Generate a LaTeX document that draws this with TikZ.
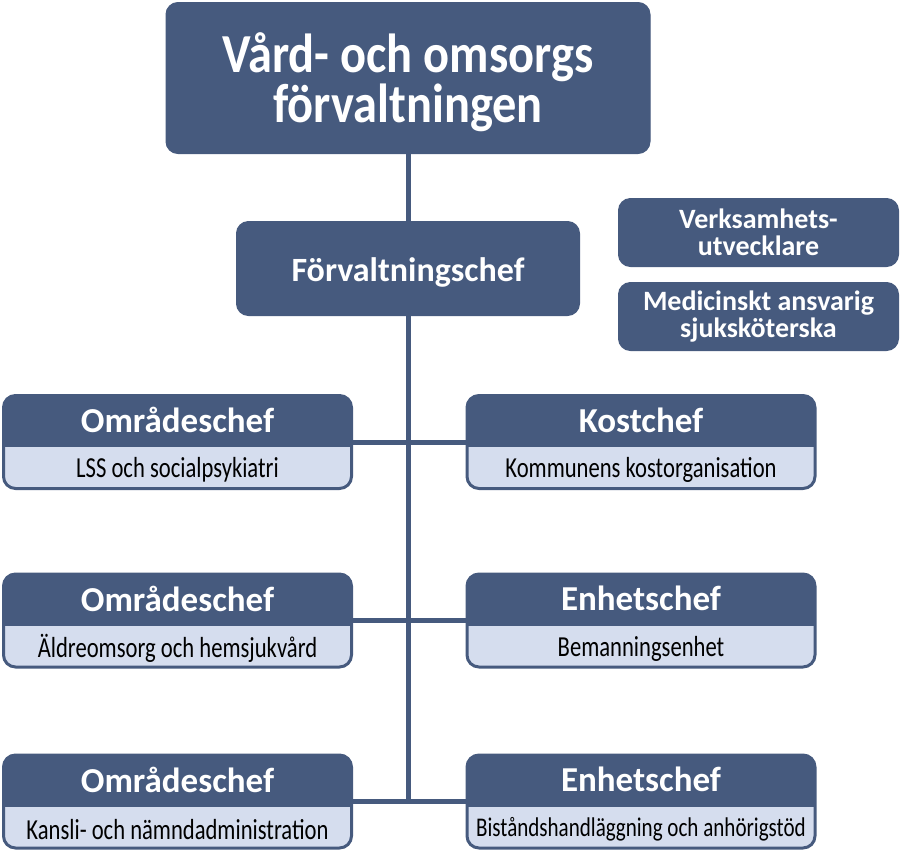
\documentclass[tikz,border=0pt]{standalone}
\usepackage{fontspec}
\setmainfont{Carlito}
\newfontfamily\orgtitle[FakeStretch=0.88]{Carlito}
\newfontfamily\orgsub[FakeStretch=0.78]{Carlito}
\usetikzlibrary{backgrounds}

\definecolor{orgdark}{HTML}{465A7E}
\definecolor{orglight}{HTML}{D5DDEE}

\tikzset{
  darkbox/.style={
    draw=orgdark, fill=orgdark, rounded corners=12pt, line width=1pt,
    inner sep=0pt, text=white, align=center
  },
  unitbox/.style={
    draw=orgdark, fill=orglight, rounded corners=12pt, line width=3pt,
    minimum width=348pt, minimum height=93pt, inner sep=0pt,
    path picture={\fill[orgdark, sharp corners]
      (path picture bounding box.north west)
      rectangle ([yshift=-51.5pt]path picture bounding box.north east);}
  },
  headtext/.style={font=\bfseries\fontsize{35}{36}\selectfont,
    text=white, inner sep=0pt},
  subtext/.style={font=\orgsub\fontsize{29}{30}\selectfont,
    text=black, inner sep=0pt},
  orglink/.style={draw=orgdark, line width=5pt}
}

\begin{document}
\begin{tikzpicture}[x=1pt, y=-1pt]
\useasboundingbox (0,0) rectangle (900,852);

% Top of the organisation and its head.
\node[darkbox, minimum width=484pt, minimum height=151pt, text depth=0pt,
  font=\orgtitle\bfseries\fontsize{55}{50}\selectfont] (forv) at (408,78)
  {Vård- och omsorgs\\förvaltningen};
\node[darkbox, minimum width=343pt, minimum height=94pt, text height=32pt,
  font=\bfseries\fontsize{34}{36}\selectfont] (chef) at (408,268.5)
  {Förvaltningschef};

% Staff functions beside the head.
\node[darkbox, minimum width=280pt, minimum height=68pt,
  font=\bfseries\fontsize{28}{27}\selectfont] (verks) at (758.5,232.5)
  {Verksamhets-\\utvecklare};
\node[darkbox, minimum width=280pt, minimum height=68pt,
  font=\bfseries\fontsize{28}{27}\selectfont] (medic) at (758.5,316.5)
  {Medicinskt ansvarig\\sjuksköterska};

% Units, left and right of the trunk.
\node[unitbox] (omr1) at (177.5,442)   {};
\node[unitbox] (kost) at (641,442)     {};
\node[unitbox] (omr2) at (177.5,620.5) {};
\node[unitbox] (ench) at (641,620.5)   {};
\node[unitbox] (omr3) at (177.5,801.5) {};
\node[unitbox] (bist) at (641,801.5)   {};

\foreach \unit/\head/\sub in {
  omr1/Områdeschef/LSS och socialpsykiatri,
  kost/Kostchef/Kommunens kostorganisation,
  omr2/Områdeschef/Äldreomsorg och hemsjukvård,
  ench/Enhetschef/Bemanningsenhet,
  omr3/Områdeschef/Kansli- och nämndadministration,
  bist/Enhetschef/{\fontsize{27}{30}\selectfont Biståndshandläggning och anhörigstöd}}{%
  \node[headtext] (\unit-head) at ([yshift=-26pt]\unit.north) {\head};
  \node[subtext]  (\unit-sub)  at ([yshift=20pt]\unit.south)  {\sub};
}

% Lines of reporting, behind the boxes.
\begin{scope}[on background layer]
\coordinate (trunkend) at (forv.south |- omr3.east);
\draw[orglink] (forv.south) -- (trunkend);
\foreach \left/\right in {omr1/kost, omr2/ench, omr3/bist}
  \draw[orglink] (\left.east) -- (\right.west);
\end{scope}

\end{tikzpicture}
\end{document}
